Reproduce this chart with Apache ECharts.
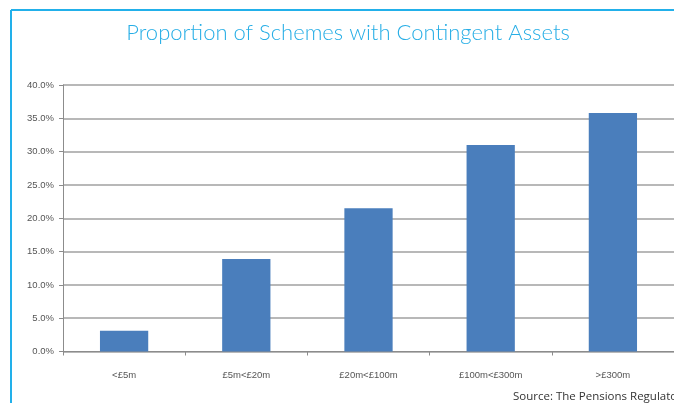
<!DOCTYPE html>
<html>
<head>
<meta charset="utf-8">
<script src="https://cdn.jsdelivr.net/npm/echarts@6/dist/echarts.min.js"></script>
<style>
html,body{margin:0;padding:0;background:#fff;}
#chart{width:674px;height:403px;}
</style>
</head>
<body>
<div id="chart"></div>
<script>
const titleText = 'Proportion of Schemes with Contingent Assets';
const sourceText = 'Source: The Pensions Regulator';
const categories = ['<£5m', '£5m<£20m', '£20m<£100m', '£100m<£300m', '>£300m'];
const values = [3.1, 13.9, 21.5, 31.0, 35.8];
const yTicks = { min: 0, max: 40, interval: 5 };

const chart = echarts.init(document.getElementById('chart'));
chart.setOption({
  animation: false,
  backgroundColor: '#ffffff',
  graphic: [
    { type: 'line', shape: { x1: 11, y1: 10, x2: 674, y2: 10 }, style: { stroke: '#22b0ea', lineWidth: 2 } },
    { type: 'line', shape: { x1: 11, y1: 10, x2: 11, y2: 403 }, style: { stroke: '#22b0ea', lineWidth: 2 } },
    { type: 'text', x: 348, y: 33, style: { text: titleText, fill: '#27aee6', font: '300 22px Lato, "Open Sans", sans-serif', textAlign: 'center', textVerticalAlign: 'middle' } },
    { type: 'text', x: 513, y: 397, style: { text: sourceText, fill: '#333', font: '11.5px "Open Sans", sans-serif', textAlign: 'left', textVerticalAlign: 'middle' } }
  ],
  grid: { left: 63, top: 85, width: 614, height: 266.5, containLabel: false },
  xAxis: {
    type: 'category', data: categories,
    axisLine: { lineStyle: { color: '#8c8c8c', width: 1 } },
    axisTick: { show: true, length: 4, lineStyle: { color: '#8c8c8c' } },
    axisLabel: { color: '#555', fontSize: 9.5, fontFamily: 'Liberation Sans, Arial, sans-serif', margin: 19 }
  },
  yAxis: {
    type: 'value', min: yTicks.min, max: yTicks.max, interval: yTicks.interval,
    axisLine: { show: true, lineStyle: { color: '#8c8c8c', width: 1 } },
    axisTick: { show: true, length: 4, lineStyle: { color: '#8c8c8c' } },
    splitLine: { lineStyle: { color: '#a0a0a0', width: 1.5 } },
    axisLabel: { color: '#555', fontSize: 9.5, fontFamily: 'Liberation Sans, Arial, sans-serif', margin: 9, formatter: v => v.toFixed(1) + '%' }
  },
  series: [{
    type: 'bar', data: values, barWidth: '39.5%',
    itemStyle: { color: '#4a7ebc' }
  }]
});
</script>
</body>
</html>
